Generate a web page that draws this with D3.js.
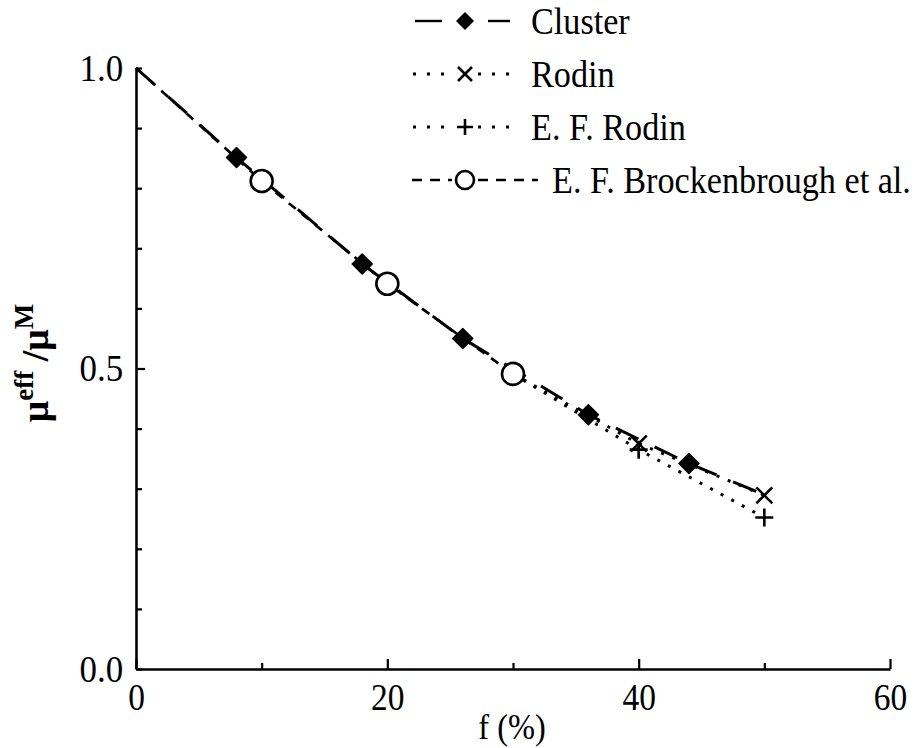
<!DOCTYPE html>
<html>
<head>
<meta charset="utf-8">
<script src="https://cdn.jsdelivr.net/npm/d3@7"></script>
<style>
body { margin: 0; background: #fff; }
svg text { font-family: "Liberation Serif", "Times New Roman", Times, "DejaVu Serif", serif !important; fill: #000; }
</style>
</head>
<body>
<div id="chart"></div>
<script>
// data: f (%) vs mu_eff / mu_M
var clusterF = [8, 18, 26, 36, 44];
var clusterMu = [0.851, 0.674, 0.550, 0.423, 0.342];
var clusterLineF = [0, 8, 18, 26, 36, 44, 50];
var clusterLineMu = [1.0, 0.851, 0.674, 0.550, 0.423, 0.342, 0.29];

var rodinF = [40, 50];
var rodinMu = [0.375, 0.289];
var rodinLineF = [30, 40, 50];
var rodinLineMu = [0.491, 0.375, 0.289];

var efRodinF = [40, 50];
var efRodinMu = [0.365, 0.252];
var efRodinLineF = [30, 40, 50];
var efRodinLineMu = [0.491, 0.365, 0.252];

var brockF = [10, 20, 30];
var brockMu = [0.812, 0.641, 0.491];
var brockLineF = [0, 10, 20, 30];
var brockLineMu = [1.0, 0.812, 0.641, 0.491];

var xTicks = [0, 10, 20, 30, 40, 50, 60];
var xLabels = [0, 20, 40, 60];
var yTicks = [0, 0.1, 0.2, 0.3, 0.4, 0.5, 0.6, 0.7, 0.8, 0.9, 1.0];
var yLabels = [0, 0.5, 1.0];

var legendNames = ["Cluster", "Rodin", "E. F. Rodin", "E. F. Brockenbrough et al."];

var width = 916,
	height = 748;

var svg = d3.select("#chart")
	.append("svg")
	.attr("width", width)
	.attr("height", height);

var x = d3.scaleLinear().domain([0, 60]).range([136, 890]);
var y = d3.scaleLinear().domain([0, 1]).range([669, 68]);

function zip(a, b) {
	return a.map(function(v, i) { return [v, b[i]]; });
}

// axes
var xAxis = d3.axisBottom(x)
	.tickValues(xTicks)
	.tickSizeInner(-6)
	.tickSizeOuter(0)
	.tickPadding(14)
	.tickFormat(function(d) { return xLabels.indexOf(d) >= 0 ? d : ""; });

var gx = svg.append("g")
	.attr("transform", "translate(0," + y(0) + ")")
	.call(xAxis);

gx.selectAll(".tick line")
	.attr("y2", function(d) { return xLabels.indexOf(d) >= 0 ? -10 : -6; });

var yAxis = d3.axisLeft(y)
	.tickValues(yTicks)
	.tickSizeInner(-6)
	.tickSizeOuter(0)
	.tickPadding(14)
	.tickFormat(function(d) {
		return yLabels.some(function(v) { return Math.abs(v - d) < 1e-6; }) ? d3.format(".1f")(d) : "";
	});

var gy = svg.append("g")
	.attr("transform", "translate(" + x(0) + ",0)")
	.call(yAxis);

gy.selectAll(".tick line")
	.attr("x2", function(d) { return Math.abs(d - 0.5) < 1e-6 ? 9 : 6; });

svg.selectAll("g").attr("font-family", null);
svg.selectAll(".domain").attr("stroke", "#000").attr("stroke-width", 2.6);
svg.selectAll(".tick line").attr("stroke", "#000").attr("stroke-width", 2.2);
svg.selectAll(".tick text")
	.attr("font-size", 38)
	.attr("fill", "#000");
gx.selectAll(".tick text").attr("dy", "0.72em").attr("transform", "scale(0.88,1)");
gy.selectAll(".tick text").attr("transform", "scale(0.92,1)");

// axis titles
svg.append("text")
	.attr("transform", "translate(512,739) scale(0.9,1)")
	.attr("text-anchor", "middle")
	.attr("font-size", 36)
	.text("f (%)");

var ylab = svg.append("text")
	.attr("transform", "translate(48,363) rotate(-90)")
	.attr("text-anchor", "middle")
	.attr("font-size", 38)
	.attr("font-weight", "bold");
ylab.append("tspan").text("\u03bc");
ylab.append("tspan").attr("font-size", 27).attr("dy", -15).text("eff");
ylab.append("tspan").attr("dy", 15).text(" /\u03bc");
ylab.append("tspan").attr("font-size", 27).attr("dy", -15).text("M");

// lines
var line = d3.line()
	.x(function(d) { return x(d[0]); })
	.y(function(d) { return y(d[1]); });

var series = [
	{ pts: zip(brockLineF, brockLineMu), dash: "9,8", w: 2.6 },
	{ pts: zip(efRodinLineF, efRodinLineMu), dash: "3,9", w: 3 },
	{ pts: zip(rodinLineF, rodinLineMu), dash: "3,9", w: 3 },
	{ pts: zip(clusterLineF, clusterLineMu), dash: "25,18", w: 3 }
];

svg.append("g")
	.selectAll("path")
	.data(series)
	.enter().append("path")
	.attr("d", function(d) { return line(d.pts); })
	.attr("fill", "none")
	.attr("stroke", "#000")
	.attr("stroke-width", function(d) { return d.w; })
	.attr("stroke-dasharray", function(d) { return d.dash; });

// marker shapes
function diamond(g, s) {
	g.append("path")
		.attr("d", "M0," + (-s) + "L" + s + ",0L0," + s + "L" + (-s) + ",0Z")
		.attr("fill", "#000")
		.attr("stroke", "#000")
		.attr("stroke-width", 1.5)
		.attr("stroke-linejoin", "round");
}
function circle(g, r) {
	g.append("circle")
		.attr("r", r)
		.attr("fill", "#fff")
		.attr("stroke", "#000")
		.attr("stroke-width", 2.6);
}
function cross(g, s) {
	g.append("path")
		.attr("d", "M" + (-s) + "," + (-s) + "L" + s + "," + s + "M" + s + "," + (-s) + "L" + (-s) + "," + s)
		.attr("stroke", "#000")
		.attr("stroke-width", 2.6);
}
function plus(g, s) {
	g.append("path")
		.attr("d", "M" + (-s) + ",0L" + s + ",0M0," + (-s) + "L0," + s)
		.attr("stroke", "#000")
		.attr("stroke-width", 2.6);
}

function drawMarks(fs, mus, fn, s) {
	svg.append("g")
		.selectAll("g")
		.data(zip(fs, mus))
		.enter().append("g")
		.attr("transform", function(d) { return "translate(" + x(d[0]) + "," + y(d[1]) + ")"; })
		.each(function() { fn(d3.select(this), s); });
}

drawMarks(clusterF, clusterMu, diamond, 10);
drawMarks(brockF, brockMu, circle, 11);
drawMarks(rodinF, rodinMu, cross, 8);
drawMarks(efRodinF, efRodinMu, plus, 9);

// legend
var legRows = [
	{ y: 21, x1: 415, x2: 510, tx: 531, fn: diamond, s: 8, gap: 23, w: 2.4 },
	{ y: 74, x1: 413, x2: 516, tx: 531, fn: cross, s: 7, gap: 13, w: 3 },
	{ y: 127, x1: 413, x2: 516, tx: 531, fn: plus, s: 8, gap: 13, w: 3 },
	{ y: 180, x1: 412, x2: 538, tx: 552, fn: circle, s: 9, gap: 13, w: 2.6 }
];
var legDash = ["none", "3,11", "3,11", "10,8"];
var legX = 465;

legRows.forEach(function(r, i) {
	var g = svg.append("g");
	// left and right pieces of the sample line
	[[r.x1, legX - r.gap], [legX + r.gap, r.x2]].forEach(function(seg) {
		g.append("line")
			.attr("x1", seg[0]).attr("x2", seg[1])
			.attr("y1", r.y).attr("y2", r.y)
			.attr("stroke", "#000")
			.attr("stroke-width", r.w)
			.attr("stroke-dasharray", legDash[i]);
	});
	var m = g.append("g").attr("transform", "translate(" + legX + "," + r.y + ")");
	r.fn(m, r.s);
	g.append("text")
		.attr("transform", "translate(" + r.tx + "," + (r.y + 13) + ") scale(0.9,1)")
		.attr("font-size", 38)
		.text(legendNames[i]);
});//legend
</script>
</body>
</html>
